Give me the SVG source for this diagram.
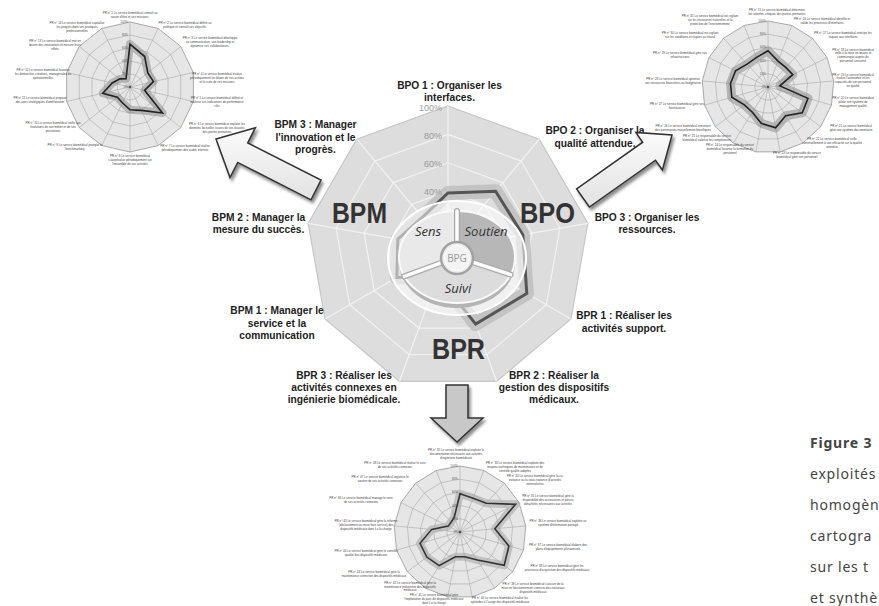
<svg xmlns="http://www.w3.org/2000/svg" width="879" height="606" viewBox="0 0 879 606">
<style>
.lbl{font-family:"Liberation Sans",Arial,sans-serif;font-weight:bold;font-size:10.2px;fill:#222;text-anchor:middle}
.big{font-family:"Liberation Sans",Arial,sans-serif;font-weight:bold;font-size:30px;fill:#333}
.pct{font-family:"Liberation Sans",Arial,sans-serif;font-size:9px;fill:#9a9a9a;text-anchor:end}
.pie{font-family:"Open Sans",sans-serif;font-style:italic;font-size:13px;fill:#333;text-anchor:middle}
.bpg{font-family:"Open Sans",sans-serif;font-size:10px;fill:#999;text-anchor:middle}
.pr{font-family:"Liberation Sans",Arial,sans-serif;font-size:3px;fill:#444;text-anchor:middle}
.spct{font-family:"Liberation Sans",Arial,sans-serif;font-size:3px;fill:#555;text-anchor:end}
.cap{font-family:"Noto Sans",sans-serif;font-size:14px;fill:#444;letter-spacing:0.8px}
.ring{fill:none}
.arrow{stroke:#333;stroke-width:1.5;stroke-linejoin:miter;filter:url(#sh)}
</style>
<defs>
<polygon id="n9" vector-effect="non-scaling-stroke" points="0,-1 .6428,-.766 .9848,-.1736 .866,.5 .342,.9397 -.342,.9397 -.866,.5 -.9848,-.1736 -.6428,-.766"/>
<path id="s9" vector-effect="non-scaling-stroke" d="M0,0L0,-1M0,0L.6428,-.766M0,0L.9848,-.1736M0,0L.866,.5M0,0L.342,.9397M0,0L-.342,.9397M0,0L-.866,.5M0,0L-.9848,-.1736M0,0L-.6428,-.766"/>
<polygon id="n14" vector-effect="non-scaling-stroke" points="0,-1 .4339,-.901 .7818,-.6235 .9749,-.2225 .9749,.2225 .7818,.6235 .4339,.901 0,1 -.4339,.901 -.7818,.6235 -.9749,.2225 -.9749,-.2225 -.7818,-.6235 -.4339,-.901"/>
<path id="s14" vector-effect="non-scaling-stroke" d="M0,0L0,-1M0,0L.4339,-.901M0,0L.7818,-.6235M0,0L.9749,-.2225M0,0L.9749,.2225M0,0L.7818,.6235M0,0L.4339,.901M0,0L0,1M0,0L-.4339,.901M0,0L-.7818,.6235M0,0L-.9749,.2225M0,0L-.9749,-.2225M0,0L-.7818,-.6235M0,0L-.4339,-.901"/>
<polygon id="n17" vector-effect="non-scaling-stroke" points="0,-1 .3612,-.9325 .6737,-.739 .8952,-.4457 .9957,-.0923 .9618,.2737 .798,.6026 .5264,.8502 .1837,.983 -.1837,.983 -.5264,.8502 -.798,.6026 -.9618,.2737 -.9957,-.0923 -.8952,-.4457 -.6737,-.739 -.3612,-.9325"/>
<path id="s17" vector-effect="non-scaling-stroke" d="M0,0L0,-1M0,0L.3612,-.9325M0,0L.6737,-.739M0,0L.8952,-.4457M0,0L.9957,-.0923M0,0L.9618,.2737M0,0L.798,.6026M0,0L.5264,.8502M0,0L.1837,.983M0,0L-.1837,.983M0,0L-.5264,.8502M0,0L-.798,.6026M0,0L-.9618,.2737M0,0L-.9957,-.0923M0,0L-.8952,-.4457M0,0L-.6737,-.739M0,0L-.3612,-.9325"/>
<filter id="sh" x="-20%" y="-20%" width="150%" height="150%"><feDropShadow dx="2" dy="3" stdDeviation="1.8" flood-color="#000" flood-opacity=".45"/></filter>
<linearGradient id="ag" x1="0" y1="0" x2="0" y2="1"><stop offset="0" stop-color="#fbfbfb"/><stop offset="1" stop-color="#e2e2e2"/></linearGradient>
</defs>

<!-- central radar -->
<g id="radar-main">
 <g transform="translate(448,248) scale(142)">
  <use href="#n9" fill="#dddddd" stroke="#c6c6c6" stroke-width="1.2"/>
  <use href="#n9" class="ring" transform="scale(.8)" stroke="#f2f2f2" stroke-width="1.2"/>
  <use href="#n9" class="ring" transform="scale(.6)" stroke="#f2f2f2" stroke-width="1.2"/>
  <use href="#n9" class="ring" transform="scale(.4)" stroke="#f2f2f2" stroke-width="1.2"/>
  <use href="#n9" class="ring" transform="scale(.2)" stroke="#f2f2f2" stroke-width="1.2"/>
  <use href="#s9" fill="none" stroke="#f2f2f2" stroke-width="1.2"/>
 </g>
 <polygon points="448,193 495.6,191.3 522.8,234.8 526.8,293.5 475.7,324.1 437.7,276.2 396.9,277.5 397.8,239.1 422.3,217.4" fill="none" stroke="#b8b8b8" stroke-width="14" stroke-linejoin="round" opacity=".7"/>
 <polygon points="448,193 495.6,191.3 522.8,234.8 526.8,293.5 475.7,324.1 437.7,276.2 396.9,277.5 397.8,239.1 422.3,217.4" fill="none" stroke="#555" stroke-width="3"/>
 <text class="pct" x="442" y="111">100%</text>
 <text class="pct" x="442" y="139">80%</text>
 <text class="pct" x="442" y="167">60%</text>
 <text class="pct" x="442" y="195">40%</text>
 <text class="big" x="332" y="223" textLength="55" lengthAdjust="spacingAndGlyphs">BPM</text>
 <text class="big" x="520" y="223" textLength="55" lengthAdjust="spacingAndGlyphs">BPO</text>
 <text class="big" x="432" y="359" textLength="53" lengthAdjust="spacingAndGlyphs">BPR</text>
</g>

<g id="center-disc">
 <ellipse cx="457" cy="258" rx="69" ry="57" fill="#fff" fill-opacity=".55" stroke="#fff" stroke-width="2"/>
 <ellipse cx="457" cy="262" rx="58" ry="46" fill="#b4b4b4"/>
 <path d="M457,257 L457,211 A58,46 0 0 1 510.6,274.6 Z" fill="#b7b7b7"/>
 <path d="M457,257 L510.6,274.6 A58,46 0 0 1 404.4,276.4 Z" fill="#dcdcdc"/>
 <path d="M457,257 L404.4,276.4 A58,46 0 0 1 457,211 Z" fill="#e9e9e9"/>
 <ellipse cx="457" cy="257" rx="58" ry="46" fill="none" stroke="#fafafa" stroke-width="2"/>
 <g stroke-linecap="round">
  <path d="M457,257 L457,211 M457,257 L404.4,276.4 M457,257 L510.6,274.6" stroke="#a9a9a9" stroke-width="6"/>
  <path d="M457,257 L457,211 M457,257 L404.4,276.4 M457,257 L510.6,274.6" stroke="#fcfcfc" stroke-width="3.5"/>
 </g>
 <circle cx="457" cy="258" r="16" fill="#ececec" stroke="#a3a3a3" stroke-width="2.5"/>
 <circle cx="457" cy="258" r="12.5" fill="#f3f3f3" stroke="#fff" stroke-width="1"/>
 <text class="bpg" x="457" y="262">BPG</text>
 <text class="pie" x="428" y="236">Sens</text>
 <text class="pie" x="486" y="236">Soutien</text>
 <text class="pie" x="458" y="293">Suivi</text>
</g>

<g id="labels-main">
 <text class="lbl" x="449.5" y="89">BPO 1 : Organiser les<tspan x="449.5" y="101.3">interfaces.</tspan></text>
 <text class="lbl" x="595" y="134.3">BPO 2 : Organiser la<tspan x="595" y="146.6">qualité attendue.</tspan></text>
 <text class="lbl" x="647" y="220.8">BPO 3 : Organiser les<tspan x="647" y="233.1">ressources.</tspan></text>
 <text class="lbl" x="624" y="319.3">BPR 1 : Réaliser les<tspan x="624" y="331.6">activités support.</tspan></text>
 <text class="lbl" x="554" y="378.5">BPR 2 : Réaliser la<tspan x="554" y="390.8">gestion des dispositifs</tspan><tspan x="554" y="403.1">médicaux.</tspan></text>
 <text class="lbl" x="344" y="378.5">BPR 3 : Réaliser les<tspan x="344" y="390.8">activités connexes en</tspan><tspan x="344" y="403.1">ingénierie biomédicale.</tspan></text>
 <text class="lbl" x="277" y="314.3">BPM 1 : Manager le<tspan x="277" y="326.6">service et la</tspan><tspan x="277" y="338.9">communication</tspan></text>
 <text class="lbl" x="258.5" y="220.8">BPM 2 : Manager la<tspan x="258.5" y="233.1">mesure du succès.</tspan></text>
 <text class="lbl" x="315.5" y="128.3">BPM 3 : Manager<tspan x="315.5" y="140.6">l'innovation et le</tspan><tspan x="315.5" y="152.9">progrès.</tspan></text>
</g>

<g id="arrows">
 <polygon id="arrow-bpm" class="arrow" fill="url(#ag)" points="216,139 255.4,127.7 247.7,142.8 321,180.2 311,199.8 237.7,162.4 230,177.5"/>
 <polygon id="arrow-bpo" class="arrow" fill="url(#ag)" points="672,135 662.4,170 655.5,160.2 589.4,207 576.6,189 642.7,142.2 635.8,132.4"/>
 <polygon id="arrow-bpr" class="arrow" fill="#c8c8c8" points="446,385 468,385 468,418 483,418 457,442 431,418 446,418"/>
</g>

<!-- upper-left radar : BPM -->
<g id="radar-bpm">
 <g transform="translate(130,87) scale(65)">
  <use href="#n14" fill="#e6e6e6" stroke="#8a8a8a" stroke-width=".7"/>
  <use href="#n14" class="ring" transform="scale(.8)" stroke="#9c9c9c" stroke-width=".5"/>
  <use href="#n14" class="ring" transform="scale(.6)" stroke="#9c9c9c" stroke-width=".5"/>
  <use href="#n14" class="ring" transform="scale(.4)" stroke="#9c9c9c" stroke-width=".5"/>
  <use href="#n14" class="ring" transform="scale(.2)" stroke="#9c9c9c" stroke-width=".5"/>
  <use href="#s14" fill="none" stroke="#9c9c9c" stroke-width=".5"/>
  <polygon vector-effect="non-scaling-stroke" points="0,-.66 .226,-.469 .274,-.218 .361,-.082 .224,.051 .5,.399 .174,.36 0,.35 -.117,.243 -.195,.156 -.419,.096 -.273,-.062 -.156,-.125 -.061,-.126" fill="none" stroke="#8f8f8f" stroke-width="8" stroke-linejoin="round" opacity=".55"/>
  <polygon vector-effect="non-scaling-stroke" points="0,-.66 .226,-.469 .274,-.218 .361,-.082 .224,.051 .5,.399 .174,.36 0,.35 -.117,.243 -.195,.156 -.419,.096 -.273,-.062 -.156,-.125 -.061,-.126" fill="none" stroke="#222" stroke-width="1.6"/>
 </g>
 <circle cx="130" cy="87" r="1.3" fill="#555"/>
 <text class="spct" x="128" y="23">100%</text><text class="spct" x="128" y="36">80%</text><text class="spct" x="128" y="49">60%</text><text class="spct" x="128" y="62">40%</text><text class="spct" x="128" y="75">20%</text><text class="spct" x="128" y="88">0%</text>
 <text class="pr" x="130" y="14.2">PR n° 1 Le service biomédical connaît sa<tspan x="130" dy="3.7">raison d'être et ses missions.</tspan></text>
 <text class="pr" x="185" y="24.2">PR n° 2 Le service biomédical définit sa<tspan x="185" dy="3.7">politique et connaît ses objectifs.</tspan></text>
 <text class="pr" x="210" y="39.4">PR n° 3 Le service biomédical développe<tspan x="210" dy="3.7">sa communication, son leadership et</tspan><tspan x="210" dy="3.7">dynamise ses collaborateurs.</tspan></text>
 <text class="pr" x="217" y="75.4">PR n° 4 Le service biomédical évalue<tspan x="217" dy="3.7">périodiquement les bilans de ses actions</tspan><tspan x="217" dy="3.7">et la suite de ses missions</tspan></text>
 <text class="pr" x="217" y="99.4">PR n° 5 Le service biomédical définit et<tspan x="217" dy="3.7">maîtrise ses indicateurs de performance</tspan><tspan x="217" dy="3.7">clés</tspan></text>
 <text class="pr" x="217" y="125.4">PR n° 6 Le service biomédical exploite les<tspan x="217" dy="3.7">données factuelles issues de ses écoutes</tspan><tspan x="217" dy="3.7">des parties prenantes</tspan></text>
 <text class="pr" x="185" y="147.2">PR n° 7 Le service biomédical réalise<tspan x="185" dy="3.7">périodiquement des audits internes</tspan></text>
 <text class="pr" x="130" y="157.4">PR n° 8 Le service biomédical<tspan x="130" dy="3.7">s'autoévalue périodiquement sur</tspan><tspan x="130" dy="3.7">l'ensemble de ses activités</tspan></text>
 <text class="pr" x="75" y="146.2">PR n° 9 Le service biomédical pratique le<tspan x="75" dy="3.7">benchmarking</tspan></text>
 <text class="pr" x="53" y="124.4">PR n° 10 Le service biomédical veille aux<tspan x="53" dy="3.7">évolutions de son métier et de ses</tspan><tspan x="53" dy="3.7">prestations</tspan></text>
 <text class="pr" x="40" y="99.2">PR n° 11 Le service biomédical propose<tspan x="40" dy="3.7">des axes stratégiques d'amélioration</tspan></text>
 <text class="pr" x="43" y="71.4">PR n° 12 Le service biomédical favorise<tspan x="43" dy="3.7">les démarches créatives, managériales ou</tspan><tspan x="43" dy="3.7">opérationnelles</tspan></text>
 <text class="pr" x="55" y="42.4">PR n° 13 Le service biomédical met en<tspan x="55" dy="3.7">œuvre des innovations et mesure leurs</tspan><tspan x="55" dy="3.7">effets</tspan></text>
 <text class="pr" x="77" y="24.4">PR n° 14 Le service biomédical capitalise<tspan x="77" dy="3.7">les progrès dans ses pratiques</tspan><tspan x="77" dy="3.7">professionnelles</tspan></text>
</g>

<!-- upper-right radar : BPO -->
<g id="radar-bpo">
 <g transform="translate(768,87) scale(66)">
  <use href="#n17" fill="#e6e6e6" stroke="#8a8a8a" stroke-width=".7"/>
  <use href="#n17" class="ring" transform="scale(.8)" stroke="#9c9c9c" stroke-width=".5"/>
  <use href="#n17" class="ring" transform="scale(.6)" stroke="#9c9c9c" stroke-width=".5"/>
  <use href="#n17" class="ring" transform="scale(.4)" stroke="#9c9c9c" stroke-width=".5"/>
  <use href="#n17" class="ring" transform="scale(.2)" stroke="#9c9c9c" stroke-width=".5"/>
  <use href="#s17" fill="none" stroke="#9c9c9c" stroke-width=".5"/>
  <polygon vector-effect="non-scaling-stroke" points="0,-.55 .152,-.392 .269,-.296 .376,-.187 .179,-.017 .606,.172 .519,.392 .268,.434 .116,.619 -.103,.55 -.237,.383 -.359,.271 -.548,.156 -.568,-.053 -.492,-.245 -.317,-.347 -.173,-.448" fill="none" stroke="#8f8f8f" stroke-width="9" stroke-linejoin="round" opacity=".55"/>
  <polygon vector-effect="non-scaling-stroke" points="0,-.55 .152,-.392 .269,-.296 .376,-.187 .179,-.017 .606,.172 .519,.392 .268,.434 .116,.619 -.103,.55 -.237,.383 -.359,.271 -.548,.156 -.568,-.053 -.492,-.245 -.317,-.347 -.173,-.448" fill="none" stroke="#222" stroke-width="1.6"/>
 </g>
 <circle cx="768" cy="87" r="1.3" fill="#555"/>
 <text class="spct" x="766" y="22">100%</text><text class="spct" x="766" y="35.2">80%</text><text class="spct" x="766" y="48.4">60%</text><text class="spct" x="766" y="61.6">40%</text><text class="spct" x="766" y="74.8">20%</text><text class="spct" x="766" y="88">0%</text>
 <text class="pr" x="777" y="11.2">PR n° 15 Le service biomédical détermine<tspan x="777" dy="3.7">les attentes critiques des parties prenantes</tspan></text>
 <text class="pr" x="822" y="20.2">PR n° 16 Le service biomédical identifie et<tspan x="822" dy="3.7">valide les processus d'interfaces</tspan></text>
 <text class="pr" x="843" y="34.2">PR n° 17 Le service biomédical anticipe les<tspan x="843" dy="3.7">risques aux interfaces</tspan></text>
 <text class="pr" x="853" y="50.5">PR n° 18 Le service biomédical<tspan x="853" dy="3.7">veille à la mise en œuvre et</tspan><tspan x="853" dy="3.7">communique auprès du</tspan><tspan x="853" dy="3.7">personnel concerné</tspan></text>
 <text class="pr" x="853" y="75.5">PR n° 19 Le service biomédical<tspan x="853" dy="3.7">évalue l'autonomie et les</tspan><tspan x="853" dy="3.7">capacités de son personnel</tspan><tspan x="853" dy="3.7">en qualité</tspan></text>
 <text class="pr" x="853" y="99.4">PR n° 20 Le service biomédical<tspan x="853" dy="3.7">pilote son système de</tspan><tspan x="853" dy="3.7">management qualité</tspan></text>
 <text class="pr" x="851" y="127.2">PR n° 21 Le service biomédical<tspan x="851" dy="3.7">gère son système documentaire</tspan></text>
 <text class="pr" x="832" y="140.4">PR n° 22 Le service biomédical veille<tspan x="832" dy="3.7">continuellement à son efficacité sur la qualité</tspan><tspan x="832" dy="3.7">attendue</tspan></text>
 <text class="pr" x="797" y="154.2">PR n° 23 Le responsable du service<tspan x="797" dy="3.7">biomédical gère son personnel</tspan></text>
 <text class="pr" x="730" y="146.4">PR n° 24 Le responsable du service<tspan x="730" dy="3.7">biomédical favorise la formation du</tspan><tspan x="730" dy="3.7">personnel</tspan></text>
 <text class="pr" x="707" y="137.2">PR n° 25 Le responsable du service<tspan x="707" dy="3.7">biomédical valorise les compétences</tspan></text>
 <text class="pr" x="683" y="127.2">PR n° 26 Le service biomédical entretient<tspan x="683" dy="3.7">des partenariats mutuellement bénéfiques</tspan></text>
 <text class="pr" x="677" y="105.2">PR n° 27 Le service biomédical gère ses<tspan x="677" dy="3.7">fournisseurs</tspan></text>
 <text class="pr" x="673" y="80.2">PR n° 28 Le service biomédical optimise<tspan x="673" dy="3.7">ses ressources financières ou budgétaires</tspan></text>
 <text class="pr" x="680" y="54.2">PR n° 29 Le service biomédical gère ses<tspan x="680" dy="3.7">infrastructures</tspan></text>
 <text class="pr" x="690" y="34.2">PR n° 30 Le service biomédical est vigilant<tspan x="690" dy="3.7">sur les conditions et risques au travail</tspan></text>
 <text class="pr" x="710" y="17.4">PR n° 31 Le service biomédical est vigilant<tspan x="710" dy="3.7">sur les ressources naturelles et la</tspan><tspan x="710" dy="3.7">protection de l'environnement</tspan></text>
</g>

<!-- bottom radar : BPR -->
<g id="radar-bpr">
 <g transform="translate(460,532) scale(66)">
  <use href="#n17" fill="#e6e6e6" stroke="#8a8a8a" stroke-width=".7"/>
  <use href="#n17" class="ring" transform="scale(.8)" stroke="#9c9c9c" stroke-width=".5"/>
  <use href="#n17" class="ring" transform="scale(.6)" stroke="#9c9c9c" stroke-width=".5"/>
  <use href="#n17" class="ring" transform="scale(.4)" stroke="#9c9c9c" stroke-width=".5"/>
  <use href="#n17" class="ring" transform="scale(.2)" stroke="#9c9c9c" stroke-width=".5"/>
  <use href="#s17" fill="none" stroke="#9c9c9c" stroke-width=".5"/>
  <polygon vector-effect="non-scaling-stroke" points="0,-.58 .199,-.513 .397,-.436 .841,-.419 .528,-.049 .741,.211 .67,.506 .263,.425 .07,.374 -.07,.374 -.316,.51 -.503,.38 -.606,.172 -.428,-.04 -.179,-.089 -.135,-.148 -.087,-.224" fill="none" stroke="#a5a5a5" stroke-width="8" stroke-linejoin="round" opacity=".55"/>
  <polygon vector-effect="non-scaling-stroke" points="0,-.58 .199,-.513 .397,-.436 .841,-.419 .528,-.049 .741,.211 .67,.506 .263,.425 .07,.374 -.07,.374 -.316,.51 -.503,.38 -.606,.172 -.428,-.04 -.179,-.089 -.135,-.148 -.087,-.224" fill="none" stroke="#333" stroke-width="1.6"/>
 </g>
 <circle cx="460" cy="532" r="1.3" fill="#555"/>
 <text class="spct" x="458" y="467">100%</text><text class="spct" x="458" y="480.2">80%</text><text class="spct" x="458" y="493.4">60%</text><text class="spct" x="458" y="506.6">40%</text><text class="spct" x="458" y="519.8">20%</text><text class="spct" x="458" y="533">0%</text>
 <text class="pr" x="456" y="451.4">PR n° 32 Le service biomédical exploite la<tspan x="456" dy="3.7">documentation nécessaire aux activités</tspan><tspan x="456" dy="3.7">d'ingénierie biomédicale</tspan></text>
 <text class="pr" x="515" y="464.4">PR n° 33 Le service biomédical exploite des<tspan x="515" dy="3.7">moyens techniques de maintenance et de</tspan><tspan x="515" dy="3.7">contrôle qualité adaptés</tspan></text>
 <text class="pr" x="535" y="477.4">PR n° 34 Le service biomédical gère la co-<tspan x="535" dy="3.7">traitance ou la sous-traitance d'activités</tspan><tspan x="535" dy="3.7">externalisées</tspan></text>
 <text class="pr" x="548" y="497.4">PR n° 35 Le service biomédical gère la<tspan x="548" dy="3.7">disponibilité des accessoires et pièces</tspan><tspan x="548" dy="3.7">détachées nécessaires aux activités</tspan></text>
 <text class="pr" x="558" y="522.2">PR n° 36 Le service biomédical exploite un<tspan x="558" dy="3.7">système d'information partagé</tspan></text>
 <text class="pr" x="558" y="546.2">PR n° 37 Le service biomédical élabore des<tspan x="558" dy="3.7">plans d'équipements pluriannuels</tspan></text>
 <text class="pr" x="557" y="567.2">PR n° 38 Le service biomédical gère les<tspan x="557" dy="3.7">processus d'acquisition des dispositifs médicaux</tspan></text>
 <text class="pr" x="533" y="585.4">PR n° 39 Le service biomédical s'assure de la<tspan x="533" dy="3.7">mise en fonctionnement correcte des nouveaux</tspan><tspan x="533" dy="3.7">dispositifs médicaux</tspan></text>
 <text class="pr" x="500" y="598.8">PR n° 40 Le service biomédical évalue les<tspan x="500" dy="3.7">aptitudes à l'usage des dispositifs médicaux</tspan></text>
 <text class="pr" x="434" y="596.2">PR n° 41 Le service biomédical gère<tspan x="434" dy="3.7">l'exploitation du parc de dispositifs médicaux</tspan><tspan x="434" dy="3.7">dont il a la charge</tspan></text>
 <text class="pr" x="410" y="584.2">PR n° 42 Le service biomédical gère la<tspan x="410" dy="3.5">maintenance préventive des dispositifs</tspan><tspan x="410" dy="3.5">médicaux</tspan></text>
 <text class="pr" x="374" y="573.2">PR n° 43 Le service biomédical gère la<tspan x="374" dy="3.7">maintenance corrective des dispositifs médicaux</tspan></text>
 <text class="pr" x="366" y="552.2">PR n° 44 Le service biomédical gère le contrôle<tspan x="366" dy="3.7">qualité des dispositifs médicaux</tspan></text>
 <text class="pr" x="366" y="522.4">PR n° 45 Le service biomédical gère la réforme<tspan x="366" dy="3.7">(déclassement ou mise hors service) des</tspan><tspan x="366" dy="3.7">dispositifs médicaux dont il a la charge</tspan></text>
 <text class="pr" x="361" y="499.2">PR n° 46 Le service biomédical manage le sens<tspan x="361" dy="3.7">de ses activités connexes</tspan></text>
 <text class="pr" x="380" y="478.2">PR n° 47 Le service biomédical organise le<tspan x="380" dy="3.7">soutien de ses activités connexes</tspan></text>
 <text class="pr" x="395" y="464.2">PR n° 48 Le service biomédical réalise le suivi<tspan x="395" dy="3.7">de ses activités connexes</tspan></text>
</g>

<g id="caption">
 <text class="cap" x="810" y="448" font-weight="bold" fill="#222">Figure 3</text>
 <text class="cap" x="810" y="479">exploités</text>
 <text class="cap" x="810" y="510">homogèn</text>
 <text class="cap" x="810" y="541">cartogra</text>
 <text class="cap" x="810" y="572">sur les t</text>
 <text class="cap" x="810" y="603">et synthè</text>
</g>
</svg>
